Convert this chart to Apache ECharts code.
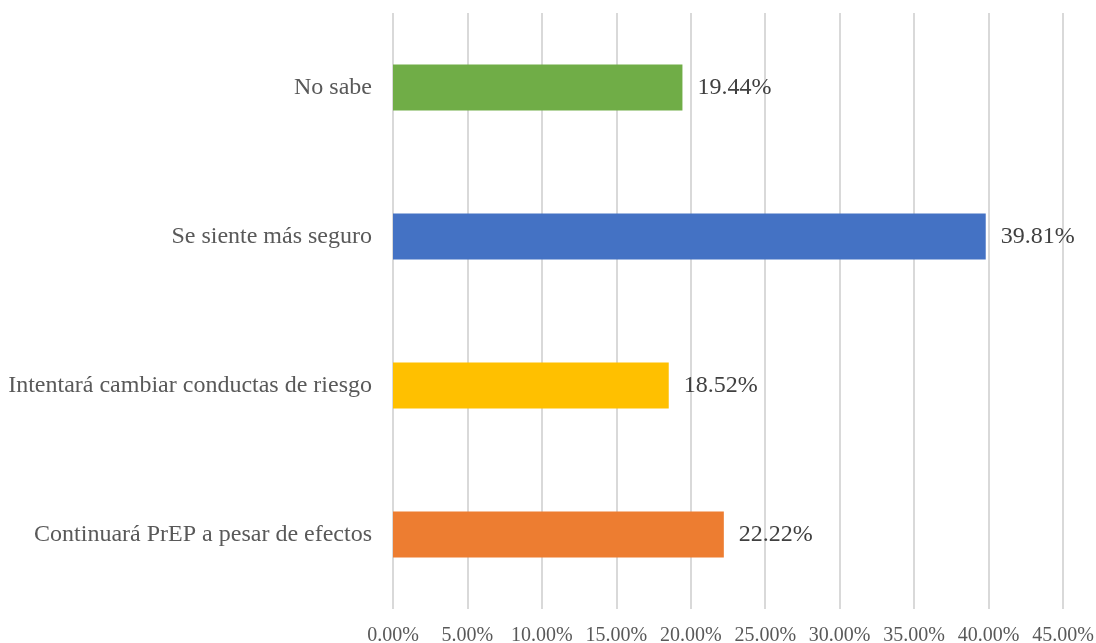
<!DOCTYPE html>
<html>
<head>
<meta charset="utf-8">
<script src="https://cdn.jsdelivr.net/npm/echarts@6/dist/echarts.min.js"></script>
<style>
html,body{margin:0;padding:0;background:#fff;}
#chart{width:1096px;height:643px;}
</style>
</head>
<body>
<div id="chart"></div>
<script>
const categories = ["Continuará PrEP a pesar de efectos", "Intentará cambiar conductas de riesgo", "Se siente más seguro", "No sabe"];
const values = [22.22, 18.52, 39.81, 19.44];
const barColors = ["#ED7D31", "#FFC000", "#4472C4", "#70AD47"];
const xTicks = { min: 0, max: 45, interval: 5 };

const chart = echarts.init(document.getElementById('chart'), null, {renderer: 'canvas'});
const font = "'Liberation Serif', 'Times New Roman', serif";
chart.setOption({
  animation: false,
  backgroundColor: '#ffffff',
  grid: { left: 393, right: 33, top: 13, bottom: 34, containLabel: false, outerBoundsMode: 'none' },
  xAxis: {
    type: 'value',
    min: xTicks.min, max: xTicks.max, interval: xTicks.interval,
    axisLine: { show: false },
    axisTick: { show: false },
    splitLine: { show: true, lineStyle: { color: '#D9D9D9', width: 2 } },
    axisLabel: {
      margin: 17,
      color: '#595959',
      fontFamily: font,
      fontSize: 20,
      formatter: v => v.toFixed(2) + '%'
    }
  },
  yAxis: {
    type: 'category',
    data: categories,
    axisLine: { show: false },
    axisTick: { show: false },
    axisLabel: { margin: 21, color: '#595959', fontFamily: font, fontSize: 24 }
  },
  series: [{
    type: 'bar',
    data: values.map((v, i) => ({ value: v, itemStyle: { color: barColors[i] } })),
    barWidth: 46,
    label: {
      show: true,
      position: 'right',
      distance: 15,
      color: '#404040',
      fontFamily: font,
      fontSize: 24,
      formatter: p => p.value.toFixed(2) + '%'
    }
  }]
});
</script>
</body>
</html>
